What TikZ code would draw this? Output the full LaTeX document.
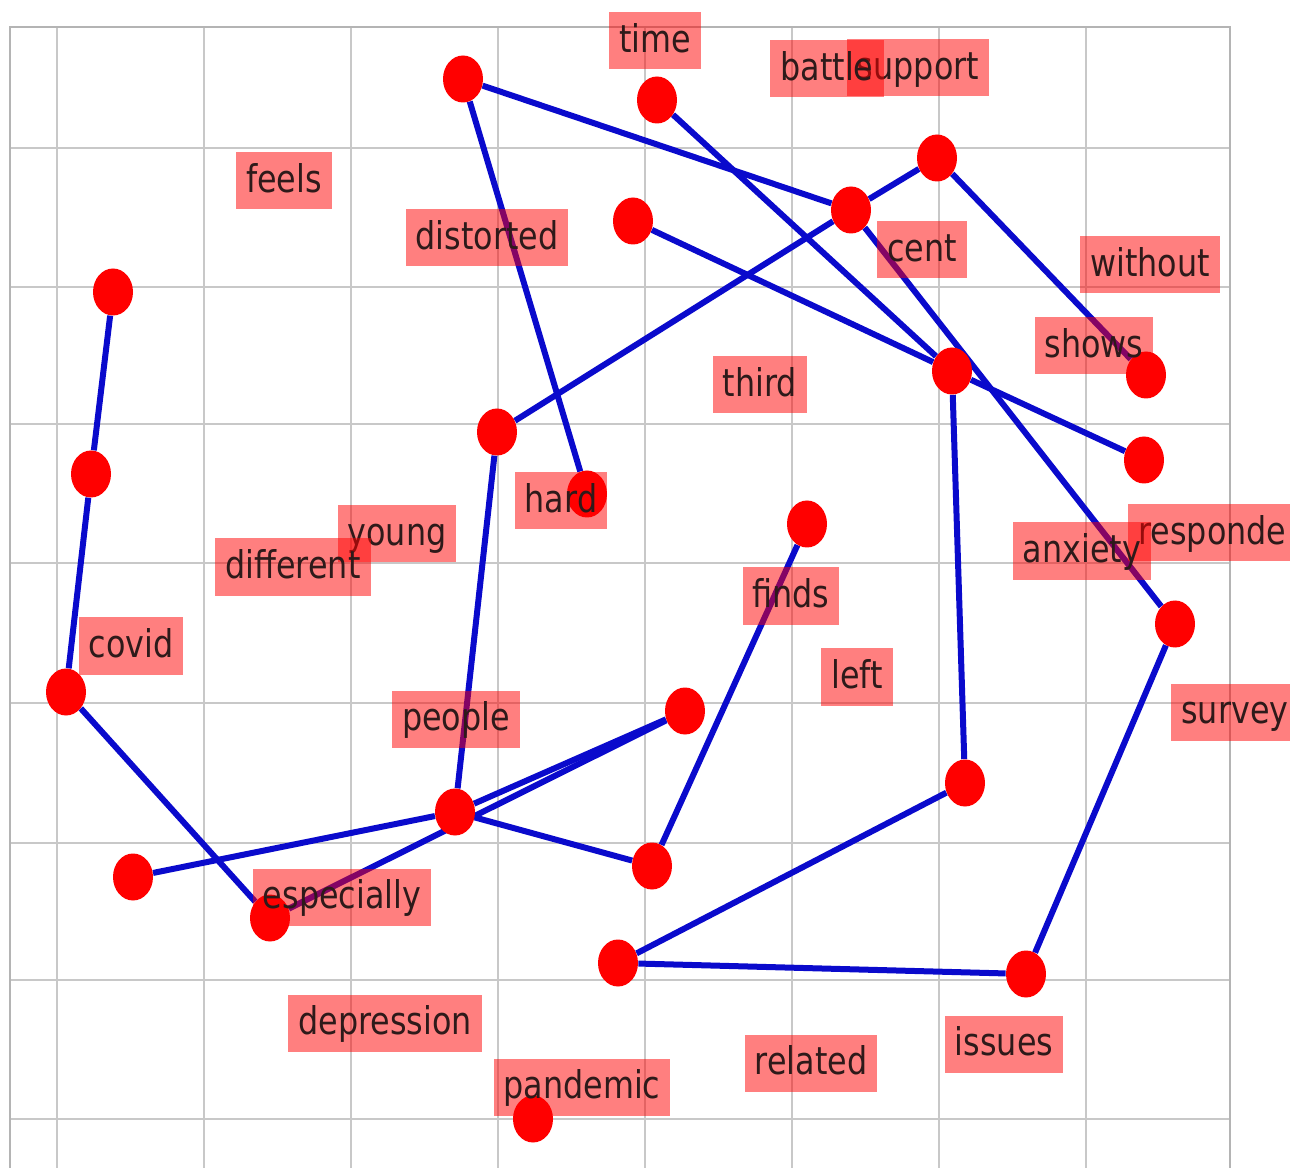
\documentclass[tikz,border=0pt]{standalone}
\usepackage{fontspec}
\setmainfont{DejaVu Sans}
\usetikzlibrary{shapes.geometric, backgrounds}
\definecolor{edgeblue}{HTML}{0A0ACC}
\definecolor{dotred}{HTML}{FF0000}
\definecolor{gridgrey}{HTML}{C8C8C8}
\definecolor{wordink}{HTML}{2E1A1A}
\newcommand\wordfont{\fontsize{18.1pt}{20pt}\selectfont}
\newcommand\tallw[1]{\scalebox{1}[1.2]{#1}}
\tikzset{
  gridline/.style={draw=gridgrey, line width=0.3mm},
  frameline/.style={draw=gridgrey!90!black, line width=0.35mm},
  link/.style={draw=edgeblue, line width=1.2mm},
  dot/.style={ellipse, fill=dotred, minimum width=8mm, minimum height=9.4mm, inner sep=0pt},
  word/.style={rectangle, fill=red, fill opacity=0.5, text opacity=1, text=wordink,
               inner xsep=2mm, inner ysep=0pt, text height=8mm, text depth=3.4mm, font=\wordfont},
}

\begin{document}
\begin{tikzpicture}[x=0.2mm, y=-0.2mm]
  \useasboundingbox (0,0) rectangle (1290,1168);

  % points
  \node[dot] (p1) at (463,79) {};
  \node[dot] (p2) at (657,100) {};
  \node[dot] (p3) at (937,158) {};
  \node[dot] (p4) at (851,210) {};
  \node[dot] (p5) at (633,221) {};
  \node[dot] (p6) at (113,292) {};
  \node[dot] (p7) at (952,371) {};
  \node[dot] (p8) at (1146,375) {};
  \node[dot] (p9) at (497,432) {};
  \node[dot] (p10) at (1144,460) {};
  \node[dot] (p11) at (91,474) {};
  \node[dot] (p12) at (587,494) {};
  \node[dot] (p13) at (807,524) {};
  \node[dot] (p14) at (1175,624) {};
  \node[dot] (p15) at (66,692) {};
  \node[dot] (p16) at (685,711) {};
  \node[dot] (p17) at (965,783) {};
  \node[dot] (p18) at (455,812) {};
  \node[dot] (p19) at (652,866) {};
  \node[dot] (p20) at (133,877) {};
  \node[dot] (p21) at (270,918) {};
  \node[dot] (p22) at (618,963) {};
  \node[dot] (p23) at (1026,974) {};
  \node[dot] (p24) at (533,1119) {};

  \begin{scope}[on background layer]
    \foreach \x in {57,204,351,498,645,792,939,1086}
      \draw[gridline] (\x,27) -- (\x,1168);
    \foreach \y in {148,287,424,563,703,843,980,1119}
      \draw[gridline] (10,\y) -- (1230,\y);
    \draw[frameline] (10,1168) -- (10,27) -- (1230,27) -- (1230,1168);

    % edges
    \draw[link] (p1) -- (p4);
    \draw[link] (p1) -- (p12);
    \draw[link] (p2) -- (p7);
    \draw[link] (p5) -- (p7);
    \draw[link] (p7) -- (p10);
    \draw[link] (p7) -- (p17);
    \draw[link] (p4) -- (p14);
    \draw[link] (p9) -- (p4);
    \draw[link] (p4) -- (p3);
    \draw[link] (p3) -- (p8);
    \draw[link] (p6) -- (p11);
    \draw[link] (p11) -- (p15);
    \draw[link] (p15) -- (p21);
    \draw[link] (p9) -- (p18);
    \draw[link] (p18) -- (p20);
    \draw[link] (p18) -- (p16);
    \draw[link] (p21) -- (p16);
    \draw[link] (p18) -- (p19);
    \draw[link] (p19) -- (p13);
    \draw[link] (p17) -- (p22);
    \draw[link] (p22) -- (p23);
    \draw[link] (p23) -- (p14);
  \end{scope}

  % words
  \node[word] (time) at (655,41) {\tallw{time}};
  \node[word] (support) at (918,68) {\tallw{support}};
  \node[word] (battle) at (827,69) {\tallw{battle}};
  \node[word] (feels) at (284,181) {\tallw{feels}};
  \node[word] (distorted) at (487,238) {\tallw{distorted}};
  \node[word] (cent) at (922,250) {\tallw{cent}};
  \node[word] (without) at (1150,265) {\tallw{without}};
  \node[word] (shows) at (1094,346) {\tallw{shows}};
  \node[word] (third) at (760,385) {\tallw{third}};
  \node[word] (hard) at (561,501) {\tallw{hard}};
  \node[word] (young) at (397,534) {\tallw{young}};
  \node[word] (different) at (293,567) {\tallw{different}};
  \node[word, anchor=west] (responde) at (1128,533) {\tallw{responde}};
  \node[word] (anxiety) at (1082,551) {\tallw{anxiety}};
  \node[word] (finds) at (791,596) {\tallw{finds}};
  \node[word] (covid) at (131,646) {\tallw{covid}};
  \node[word] (left) at (857,677) {\tallw{left}};
  \node[word, anchor=west] (survey) at (1171,712) {\tallw{survey}};
  \node[word] (people) at (456,719) {\tallw{people}};
  \node[word] (especially) at (342,897) {\tallw{especially}};
  \node[word] (depression) at (385,1023) {\tallw{depression}};
  \node[word] (issues) at (1004,1044) {\tallw{issues}};
  \node[word] (related) at (811,1063) {\tallw{related}};
  \node[word] (pandemic) at (582,1087) {\tallw{pandemic}};
\end{tikzpicture}
\end{document}
